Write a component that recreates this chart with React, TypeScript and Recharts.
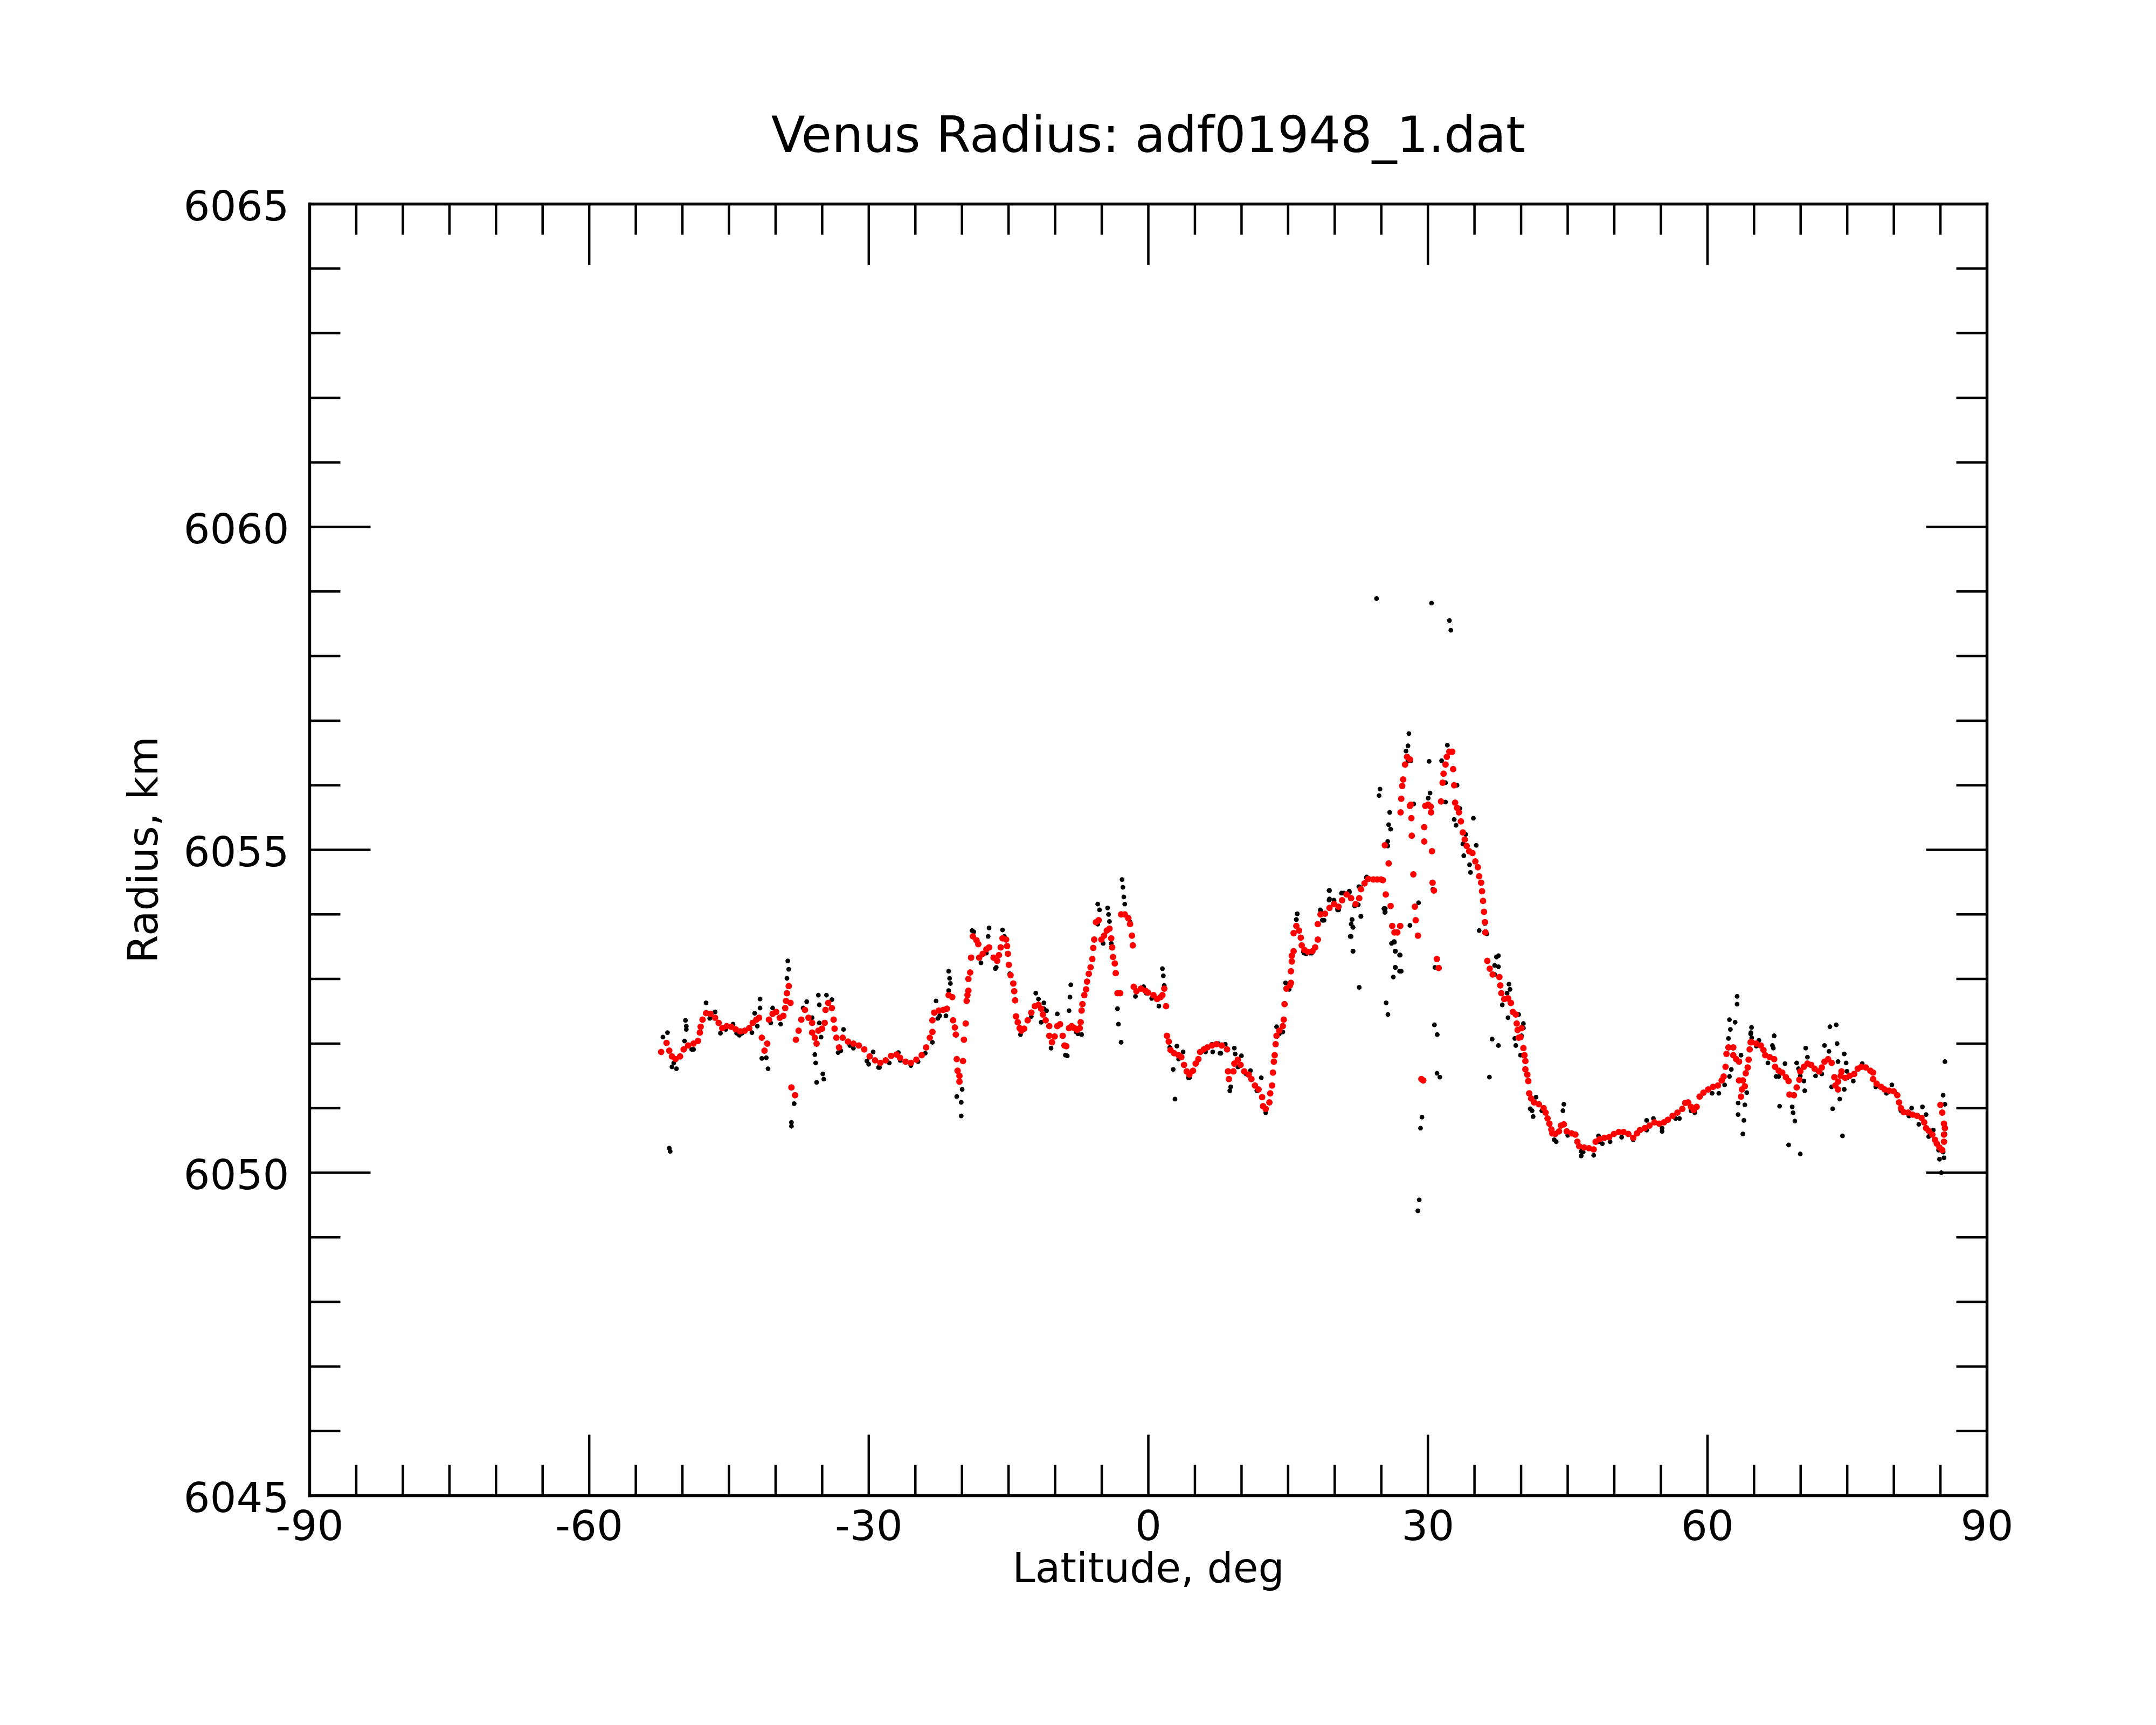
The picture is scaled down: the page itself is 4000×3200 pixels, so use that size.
import React from 'react';
import { ScatterChart, Scatter, XAxis, YAxis } from 'recharts';

type P = [number, number];

// ---- smoothed (red) series: [latitude deg, radius km]
const smoothedSouth: P[] = [
  [-52.28,6051.87],[-51.70,6052.01],[-51.41,6051.89],[-51.12,6051.80],[-50.74,6051.76],[-50.25,6051.80],[-49.87,6051.91],[-49.39,6051.97],[-48.81,6052.00],[-48.33,6052.04],[-48.13,6052.17],[-48.04,6052.26],[-47.84,6052.37],[-47.46,6052.47],[-46.98,6052.46],[-46.49,6052.40],[-46.11,6052.32],[-45.72,6052.24],[-45.24,6052.27],[-44.76,6052.26],[-44.28,6052.22],[-43.79,6052.19],[-43.31,6052.20],[-42.83,6052.24],[-42.45,6052.32],[-42.06,6052.37],[-41.77,6052.40],[-41.48,6052.09],[-41.19,6051.89],[-40.90,6052.00],[-40.71,6052.37],[-40.32,6052.46],[-39.94,6052.49],[-39.55,6052.40],[-39.17,6052.43],[-38.97,6052.55],[-38.88,6052.66],[-38.78,6052.78],[-38.59,6052.89],[-38.40,6052.63],[-38.30,6051.32],[-37.91,6051.20],[-37.82,6052.06],[-37.53,6052.20],[-37.24,6052.37],[-36.85,6052.52],[-36.47,6052.40],[-36.08,6052.32],[-36.08,6052.17],[-35.79,6052.09],[-35.60,6052.00],[-35.41,6052.20],[-35.02,6052.23],[-34.73,6052.32],[-34.64,6052.52],[-34.35,6052.63],[-33.96,6052.55],[-33.77,6052.37],[-33.67,6052.23],[-33.48,6052.09],[-33.19,6051.94],[-32.80,6052.09],[-32.23,6052.03],[-31.65,6052.00],[-31.07,6051.97],[-30.49,6051.91],[-29.91,6051.80],[-29.33,6051.74],[-28.76,6051.70],[-28.18,6051.74],[-27.60,6051.81],[-27.02,6051.83],
];
const smoothedMid: P[] = [
  [-26.64,6051.78],[-26.06,6051.72],[-25.48,6051.70],[-24.90,6051.75],[-24.32,6051.82],[-23.84,6051.94],[-23.45,6052.09],[-23.17,6052.18],[-23.17,6052.36],[-22.97,6052.48],[-22.49,6052.51],[-22.01,6052.52],[-21.62,6052.54],[-21.43,6052.75],[-21.04,6052.72],[-20.95,6052.36],[-20.76,6052.25],[-20.66,6052.14],[-20.56,6051.76],[-20.47,6051.58],[-20.27,6051.50],[-20.27,6051.41],[-19.89,6051.73],[-19.79,6052.06],[-19.60,6052.31],[-19.50,6052.66],[-19.41,6052.75],[-19.31,6052.82],[-19.31,6053.00],[-19.12,6053.10],[-19.02,6053.33],[-18.83,6053.66],[-18.44,6053.60],[-18.25,6053.54],[-18.15,6053.33],[-17.77,6053.39],[-17.38,6053.46],[-17.09,6053.49],[-16.61,6053.33],[-16.22,6053.28],[-16.03,6053.37],[-15.84,6053.49],[-15.65,6053.63],[-15.26,6053.61],[-15.16,6053.51],[-15.07,6053.39],[-14.97,6053.22],[-14.78,6053.06],[-14.49,6052.93],[-14.39,6052.81],[-14.30,6052.67],[-14.20,6052.42],[-14.01,6052.33],[-13.81,6052.24],[-13.62,6052.20],[-13.33,6052.23],[-12.95,6052.36],[-12.56,6052.48],[-12.18,6052.58],[-11.79,6052.60],[-11.50,6052.54],[-11.31,6052.45],[-11.02,6052.36],[-10.63,6052.27],[-10.63,6052.12],[-10.34,6052.02],[-10.05,6052.11],[-9.77,6052.27],[-9.47,6052.30],[-9.19,6052.12],[-9.00,6051.97],[-8.80,6051.96],[-8.51,6052.24],[-8.22,6052.27],[-7.93,6052.24],[-7.64,6052.21],[-7.36,6052.24],[-7.26,6052.33],[-7.16,6052.51],[-7.07,6052.61],[-6.87,6052.75],[-6.68,6052.84],[-6.58,6052.96],[-6.39,6053.08],[-6.20,6053.18],[-6.01,6053.31],[-5.91,6053.48],[-5.81,6053.61],[-5.62,6053.88],[-5.33,6053.91],[-5.04,6053.61],[-4.75,6053.67],[-4.46,6053.75],[-4.17,6053.78],[-3.98,6053.63],[-3.88,6053.49],[-3.79,6053.34],[-3.60,6053.24],[-3.50,6053.09],[-3.31,6052.78],[-3.02,6052.78],[-2.92,6054.00],[-2.53,6054.00],[-2.15,6053.94],[-1.96,6053.85],[-1.76,6053.67],[-1.67,6053.52],[-1.57,6052.88],[-1.28,6052.81],[-0.80,6052.85],[-0.32,6052.82],
];
const smoothedEquator: P[] = [
  [-0.03,6052.79],[0.55,6052.75],[0.94,6052.69],[1.32,6052.72],[1.51,6052.75],[1.71,6052.85],[1.90,6052.58],[2.00,6052.12],[2.19,6052.03],[2.38,6051.90],[2.77,6051.85],[3.25,6051.82],[3.54,6051.79],[3.83,6051.67],[4.12,6051.57],[4.41,6051.52],[4.79,6051.58],[5.08,6051.69],[5.37,6051.76],[5.56,6051.87],[5.95,6051.91],[6.33,6051.94],[6.82,6051.97],[7.30,6051.99],[7.88,6051.97],[8.45,6051.91],[8.55,6051.57],[8.65,6051.45],[9.13,6051.57],[9.23,6051.69],[9.61,6051.75],[9.90,6051.67],[10.29,6051.57],[10.77,6051.52],[11.06,6051.45],[11.44,6051.35],[11.83,6051.29],[12.21,6051.17],[12.31,6051.03],[12.60,6050.99],[12.99,6051.09],[13.08,6051.23],[13.28,6051.35],[13.37,6051.55],[13.47,6051.72],[13.56,6051.82],[13.66,6051.99],[13.76,6052.12],[14.05,6052.20],[14.43,6052.27],[14.53,6052.37],[14.62,6052.61],[14.82,6052.85],[15.20,6052.90],[15.30,6052.94],[15.30,6053.12],[15.40,6053.27],[15.40,6053.36],[15.59,6053.43],[15.59,6053.71],[15.88,6053.82],[16.17,6053.75],[16.36,6053.64],[16.46,6053.52],[16.75,6053.45],[17.13,6053.42],[17.61,6053.43],[17.90,6053.49],[18.19,6053.61],[18.19,6053.85],[18.48,6054.00],[18.96,6054.01],[19.44,6054.10],[19.93,6054.16],[20.41,6054.12],[20.79,6054.22],[21.28,6054.31],[21.76,6054.25],[22.24,6054.16],[22.63,6054.25],[22.82,6054.39],[23.20,6054.48],[23.59,6054.55],
];
const smoothedPeak: P[] = [
  [24.14,6054.54],[24.55,6054.54],[24.97,6054.54],[25.17,6054.53],[25.48,6054.31],[25.38,6055.07],[25.79,6054.79],[26.00,6054.13],[26.17,6053.82],[26.41,6053.72],[26.72,6053.72],[27.03,6053.82],[27.07,6055.58],[27.14,6055.79],[27.24,6055.99],[27.34,6056.09],[27.55,6056.32],[27.76,6056.44],[28.07,6056.40],[28.07,6055.68],[28.17,6055.70],[28.23,6055.49],[28.27,6055.22],[28.44,6054.62],[28.60,6054.12],[28.69,6053.91],[28.93,6053.67],[29.30,6051.45],[29.50,6051.43],[29.61,6055.13],[29.61,6055.35],[29.72,6055.68],[30.03,6055.70],[30.30,6055.67],[30.34,6055.58],[30.44,6054.98],[30.50,6054.49],[30.65,6054.37],[30.96,6053.31],[31.16,6053.17],[31.41,6055.75],[31.58,6056.04],[31.68,6056.18],[31.89,6056.32],[32.03,6056.44],[32.30,6056.52],[32.61,6056.52],[32.71,6056.25],[32.82,6056.00],[32.92,6055.73],[33.13,6055.65],[33.33,6055.58],[33.54,6055.44],[33.75,6055.27],[33.95,6055.16],[34.16,6055.06],[34.43,6054.98],[34.78,6054.95],[35.09,6054.82],[35.36,6054.73],[35.50,6054.59],[35.71,6054.49],[35.81,6054.36],[35.92,6054.21],[36.02,6054.04],[36.12,6053.88],[36.16,6053.72],[36.37,6053.28],[36.64,6053.16],[36.95,6053.07],
];
const smoothedNorth: P[] = [
  [37.67,6053.03],[37.77,6052.90],[37.88,6052.78],[38.19,6052.69],[38.60,6052.70],[38.91,6052.63],[39.12,6052.49],[39.43,6052.45],[39.53,6052.31],[39.63,6052.21],[40.05,6052.24],[39.94,6052.10],[39.74,6052.09],[40.25,6051.93],[40.36,6051.82],[40.46,6051.73],[40.46,6051.60],[40.67,6051.52],[40.77,6051.42],[40.87,6051.23],[41.08,6051.15],[41.39,6051.09],[41.91,6051.06],[42.42,6051.00],[42.63,6050.93],[42.84,6050.84],[43.04,6050.76],[43.25,6050.67],[43.35,6050.61],[43.66,6050.60],[44.07,6050.64],[44.28,6050.73],[44.59,6050.75],[44.90,6050.64],[45.42,6050.61],[45.83,6050.59],[46.04,6050.48],[46.24,6050.41],[46.76,6050.39],[47.28,6050.38],[47.79,6050.36],[48.00,6050.48],[48.41,6050.52],[48.93,6050.54],[49.45,6050.55],[49.96,6050.60],[50.48,6050.63],[51.00,6050.63],[51.51,6050.60],[52.03,6050.54],[52.44,6050.61],[52.75,6050.66],[53.27,6050.69],[53.78,6050.73],[54.30,6050.78],[54.82,6050.76],[55.33,6050.78],[55.75,6050.82],[56.26,6050.88],[56.78,6050.93],[57.30,6050.99],[57.61,6051.08],[57.92,6051.09],[58.23,6051.02],[58.53,6050.97],[58.84,6051.02],[59.16,6051.18],[59.57,6051.24],[60.08,6051.29],[60.60,6051.33],[61.12,6051.35],[61.53,6051.43],[61.74,6051.49],[61.94,6051.64],[62.04,6051.84],[62.25,6051.94],[62.77,6051.94],[62.77,6051.82],[63.08,6051.76],[63.39,6051.72],[63.39,6051.43],[63.80,6051.43],[63.70,6051.29],[63.60,6051.18],[64.01,6051.34],[64.11,6051.54],[64.32,6051.63],[64.42,6051.75],[64.53,6051.91],[64.63,6052.02],
];
const smoothedPolar: P[] = [
  [64.75,6052.02],[65.24,6052.00],[65.72,6051.97],[66.01,6051.90],[66.20,6051.82],[66.68,6051.79],[67.16,6051.76],[67.26,6051.64],[67.65,6051.58],[68.03,6051.55],[68.42,6051.48],[68.71,6051.42],[68.80,6051.21],[69.28,6051.20],[69.57,6051.32],[69.86,6051.44],[69.96,6051.57],[70.35,6051.64],[70.73,6051.69],[71.12,6051.67],[71.50,6051.61],[71.98,6051.57],[72.27,6051.63],[72.56,6051.72],[72.95,6051.76],[73.33,6051.70],[73.62,6051.48],[73.72,6051.35],[74.01,6051.29],[74.01,6051.41],[74.30,6051.50],[74.39,6051.57],[74.78,6051.47],[75.26,6051.50],[75.74,6051.53],[76.13,6051.61],[76.51,6051.64],[76.99,6051.63],[77.48,6051.58],[77.77,6051.55],[77.77,6051.45],[78.15,6051.38],[78.64,6051.33],[79.02,6051.29],[79.50,6051.27],[79.99,6051.26],[80.37,6051.20],[80.56,6051.09],[80.76,6051.00],[81.05,6050.94],[81.53,6050.93],[82.01,6050.90],[82.49,6050.88],[82.97,6050.85],[83.26,6050.78],[83.46,6050.69],[83.74,6050.65],[84.13,6050.59],[84.42,6050.51],[84.61,6050.45],[84.90,6050.39],[85.19,6050.35],[85.38,6050.48],[85.38,6050.59],[85.48,6050.69],[85.38,6050.76],[85.19,6050.93],[85.00,6051.05],
];

// ---- raw (black) series
const rawSouth: P[] = [
  [-52.09,6052.10],[-51.60,6052.17],[-51.12,6051.64],[-50.64,6051.61],[-51.41,6050.38],[-51.31,6050.33],[-50.93,6051.70],[-49.77,6052.04],[-49.58,6052.27],[-49.58,6052.22],[-49.00,6051.91],[-47.46,6052.63],[-46.98,6052.40],[-46.49,6052.49],[-45.92,6052.16],[-44.57,6052.30],[-43.89,6052.13],[-42.54,6052.17],[-42.25,6052.47],[-41.67,6052.69],[-41.67,6052.55],[-41.48,6051.77],[-41.00,6051.78],[-40.81,6051.61],[-40.32,6052.55],[-39.46,6052.30],[-38.69,6053.28],[-38.59,6053.15],[-38.78,6053.01],[-38.01,6051.07],[-38.30,6050.78],[-38.30,6050.72],[-36.66,6052.65],[-36.08,6052.40],[-35.79,6051.83],[-35.70,6051.70],[-35.60,6051.40],[-34.83,6051.45],[-34.93,6051.53],[-35.41,6052.75],[-35.31,6052.60],[-34.54,6052.75],[-33.96,6052.68],[-35.31,6052.32],[-35.12,6052.10],[-33.29,6051.86],[-32.71,6052.22],[-32.03,6051.97],[-30.01,6051.68],[-29.53,6051.87],[-28.85,6051.63],[-26.83,6051.86],
  [-49.67,6052.36],[-48.81,6051.91],[-47.07,6052.39],[-45.34,6052.22],[-44.18,6052.16],[-43.60,6052.16],[-41.96,6052.27],[-40.52,6052.32],[-37.05,6052.55],[-33.00,6051.89],[-31.65,6051.93],[-30.20,6051.73],[-28.95,6051.63],[-27.80,6051.70],[-26.63,6051.74],
];
const rawMid: P[] = [
  [-22.78,6052.66],[-22.59,6052.39],[-21.43,6053.12],[-21.33,6053.01],[-21.24,6052.93],[-21.43,6052.82],[-21.72,6052.43],[-23.17,6052.02],[-20.56,6051.18],[-19.98,6051.29],[-20.08,6051.09],[-20.08,6050.88],[-18.92,6053.75],[-17.09,6053.79],[-17.19,6053.66],[-15.65,6053.76],[-17.96,6053.25],[-16.32,6053.18],[-13.72,6052.14],[-12.08,6052.78],[-11.79,6052.69],[-11.21,6052.63],[-10.92,6052.51],[-11.50,6052.33],[-10.44,6051.93],[-9.77,6052.46],[-8.70,6051.81],[-8.32,6052.91],[-8.41,6052.72],[-8.51,6052.51],[-7.55,6052.15],[-5.43,6054.16],[-5.24,6054.07],[-4.37,6054.10],[-4.27,6054.00],[-4.17,6053.89],[-4.85,6053.55],[-2.82,6054.54],[-2.73,6054.42],[-2.63,6054.27],[-2.53,6054.16],[-1.96,6053.88],[-3.31,6052.54],[-3.21,6052.30],[-2.92,6052.02],[-1.38,6052.73],[-0.51,6052.88],
  [-25.48,6051.66],[-24.71,6051.72],[-23.94,6051.85],[-22.39,6052.43],[-18.73,6053.73],[-17.38,6053.40],[-16.42,6053.16],[-15.45,6053.66],[-14.87,6053.08],[-12.56,6052.42],[-11.21,6052.54],[-8.90,6051.82],[-7.74,6052.18],[-7.16,6052.14],[-5.43,6053.85],[-3.98,6053.55],[-0.22,6052.78],
];
const rawEquator: P[] = [
  [0.36,6052.70],[1.51,6053.16],[1.61,6053.05],[1.71,6052.90],[1.13,6052.58],[3.06,6051.96],[2.67,6051.60],[2.86,6051.14],[3.73,6051.87],[4.41,6051.47],[6.82,6051.99],[7.49,6052.00],[7.68,6051.85],[8.26,6051.99],[9.23,6051.93],[9.32,6051.84],[9.99,6051.81],[8.74,6051.27],[8.84,6051.33],[10.96,6051.58],[12.12,6051.47],[11.64,6051.27],[12.60,6050.93],[13.76,6052.26],[14.43,6052.18],[14.72,6052.94],[15.11,6052.84],[15.97,6054.01],[15.88,6053.92],[16.65,6053.42],[17.32,6053.40],[18.48,6054.06],[18.86,6053.91],[19.44,6054.37],[19.44,6054.24],[19.93,6054.21],[20.31,6054.09],[20.99,6054.33],[21.57,6054.34],[21.85,6053.92],[21.95,6053.80],[21.76,6053.66],[21.95,6053.43],[22.82,6053.97],[22.63,6052.87],[22.53,6054.15],[22.72,6054.42],[23.40,6054.57],[25.42,6054.09],[25.42,6054.04],[25.52,6052.63],[25.71,6052.45],[26.38,6053.58],[26.48,6053.43],[26.48,6053.18],[26.29,6053.03],[26.96,6053.37],[26.96,6053.12],
  [2.29,6051.94],[3.25,6051.76],[4.31,6051.47],[5.18,6051.70],[6.14,6051.87],[6.91,6051.87],[7.78,6051.85],[9.61,6051.64],[10.48,6051.53],[11.73,6051.27],[14.05,6052.15],[16.94,6053.39],[18.67,6053.91],[20.31,6054.07],[22.14,6054.13],[23.49,6054.54],
];
const rawPeak: P[] = [
  [27.96,6056.80],[27.86,6056.61],[27.65,6056.53],[28.17,6056.38],[30.13,6056.37],[24.86,6055.94],[24.76,6055.84],[25.90,6055.58],[25.79,6055.39],[26.00,6055.32],[25.69,6055.13],[25.69,6055.06],[28.48,6055.71],[30.23,6055.88],[30.03,6055.80],[31.47,6056.38],[32.09,6056.62],[31.89,6056.04],[33.13,6056.00],[31.89,6055.74],[32.82,6055.47],[33.02,6055.38],[33.44,6055.64],[34.88,6055.49],[34.06,6055.24],[33.75,6055.09],[35.19,6055.07],[33.85,6054.91],[34.47,6054.77],[34.57,6054.65],[35.50,6053.75],[36.33,6053.70],[37.36,6053.34],[37.16,6053.21],[19.39,6054.37],[19.39,6054.22],[19.91,6054.22],[20.73,6054.33],[21.56,6054.36],[18.46,6054.07],[18.77,6053.91],[15.98,6054.01],[15.88,6053.92],[21.87,6053.92],[21.77,6053.85],[21.97,6053.80],[22.80,6053.97],[21.66,6053.66],[21.97,6053.43],[22.59,6054.43],[23.42,6054.58],[25.28,6054.09],[25.38,6054.03],[26.10,6053.55],[26.41,6053.57],[26.52,6053.43],[27.03,6053.37],[26.52,6053.18],[27.14,6053.12],[26.93,6053.82],[28.07,6053.83],[29.00,6054.18],[30.54,6054.39],[30.75,6053.18],
  [24.49,6058.89],[30.39,6058.82],[32.31,6058.55],[32.46,6058.40],[29.07,6049.58],[28.92,6049.41],[29.36,6050.86],[29.21,6050.69],[30.98,6051.54],[31.28,6051.48],[30.70,6052.29],[31.00,6052.14],[36.60,6051.48],[36.90,6052.07],
  [16.70,6053.40],[17.53,6053.40],[20.42,6054.07],[22.40,6054.15],[27.86,6056.38],[36.12,6053.86],[36.23,6053.73],[37.16,6053.07],
];
const rawNorth: P[] = [
  [37.57,6053.36],[37.57,6053.19],[37.57,6051.97],[38.70,6052.92],[38.81,6052.84],[38.50,6052.78],[37.98,6052.60],[38.60,6052.40],[39.74,6052.45],[40.25,6052.31],[40.25,6052.24],[39.32,6052.08],[39.43,6051.97],[39.94,6051.82],[40.98,6050.99],[41.29,6050.87],[41.60,6051.17],[43.77,6050.48],[44.59,6051.06],[44.49,6050.96],[46.45,6050.26],[47.79,6050.27],[46.66,6050.32],[48.31,6050.57],[48.72,6050.45],[53.47,6050.81],[54.20,6050.84],[55.13,6050.64],[56.99,6050.84],[61.22,6051.23],[61.84,6051.36],[62.36,6051.49],[62.56,6051.60],[63.18,6052.73],[63.18,6052.61],[62.36,6052.37],[62.97,6052.33],[62.46,6052.22],[62.25,6052.08],[63.60,6051.82],[63.29,6051.08],[63.29,6050.90],[63.91,6050.81],[63.80,6050.60],[64.01,6051.05],[64.22,6051.24],[64.73,6052.25],[64.63,6052.15],
  [38.81,6052.63],[40.05,6052.12],[41.18,6050.96],[42.22,6050.96],[43.56,6050.51],[45.00,6050.58],[46.45,6050.33],[48.31,6050.48],[49.55,6050.48],[50.79,6050.55],[52.03,6050.51],[53.47,6050.66],[55.13,6050.69],[56.57,6050.84],[58.23,6050.96],[58.64,6050.93],[60.50,6051.23],
];
const rawPolar: P[] = [
  [64.66,6052.17],[64.75,6052.09],[65.52,6052.05],[67.16,6052.12],[66.97,6051.97],[67.07,6051.93],[66.49,6051.70],[67.36,6051.49],[67.74,6051.03],[68.32,6051.69],[69.57,6051.70],[69.77,6051.61],[69.09,6051.02],[69.19,6050.93],[69.38,6050.80],[68.71,6050.43],[69.96,6050.29],[70.35,6051.42],[70.44,6051.27],[70.54,6051.93],[70.73,6051.79],[71.60,6051.50],[72.56,6051.97],[73.04,6051.88],[73.14,6052.26],[73.82,6052.29],[73.91,6052.00],[74.01,6051.72],[73.33,6051.33],[73.43,6050.99],[74.20,6051.14],[74.68,6051.84],[74.88,6051.70],[74.68,6051.29],[74.49,6050.57],[74.97,6051.57],[75.65,6051.42],[76.61,6051.69],[78.06,6051.33],[79.21,6051.23],[79.79,6051.36],[81.62,6050.88],[81.91,6051.00],[82.68,6050.75],[83.07,6051.02],[83.46,6050.90],[83.74,6050.56],[84.23,6050.66],[84.90,6050.21],[85.38,6050.23],[85.09,6050.00],[85.29,6051.20],[85.48,6051.06],[85.48,6051.72],[85.48,6050.60],[85.29,6050.32],
  [65.24,6051.96],[67.65,6051.49],[69.96,6051.50],[72.27,6051.53],[74.97,6051.47],[80.76,6050.96],[84.80,6050.35],
];

// ---- axes
const xTickValues = [-90,-85,-80,-75,-70,-65,-60,-55,-50,-45,-40,-35,-30,-25,-20,-15,-10,-5,0,5,10,15,20,25,30,35,40,45,50,55,60,65,70,75,80,85,90];
const xLabelValues = [-90,-60,-30,0,30,60,90];
const yTickValues = [6045,6046,6047,6048,6049,6050,6051,6052,6053,6054,6055,6056,6057,6058,6059,6060,6061,6062,6063,6064,6065];
const yLabelValues = [6045,6050,6055,6060,6065];

const titleText = 'Venus Radius: adf01948_1.dat';
const xAxisTitle = 'Latitude, deg';
const yAxisTitle = 'Radius, km';

const W = 4000;
const H = 3200;
const PLOT_LEFT = 574.5;
const PLOT_RIGHT = 3686.5;
const PLOT_TOP = 378.5;
const PLOT_BOTTOM = 2774.5;
const AX_H = 30;
const AX_W = 60;
const FONT = '"DejaVu Sans", Verdana, sans-serif';
const TICK_FS = 77;
const LABEL_FS = 76;
const MAJOR = 113;
const MINOR = 57;
const TICK_W = 4.5;
const FRAME = { stroke: '#000', strokeWidth: 5.4, strokeLinecap: 'square' as const };

const toPts = (groups: P[][]) => groups.flat().map(([x, y]) => ({ x, y }));
const smoothedData = toPts([smoothedSouth, smoothedMid, smoothedEquator, smoothedPeak, smoothedNorth, smoothedPolar]);
const rawData = toPts([rawSouth, rawMid, rawEquator, rawPeak, rawNorth, rawPolar]);

const BottomTick = (props: any) => {
  const { x, y, payload } = props;
  const v = payload.value;
  const major = xLabelValues.includes(v);
  return (
    <g>
      <line x1={x} y1={y} x2={x} y2={y - (major ? MAJOR : MINOR)} stroke="#000" strokeWidth={TICK_W} />
      {major && (
        <text x={x} y={y + 82} textAnchor="middle" fontFamily={FONT} fontSize={TICK_FS} fill="#000">{v}</text>
      )}
    </g>
  );
};
const TopTick = (props: any) => {
  const { x, y, payload } = props;
  const major = xLabelValues.includes(payload.value);
  return <line x1={x} y1={y} x2={x} y2={y + (major ? MAJOR : MINOR)} stroke="#000" strokeWidth={TICK_W} />;
};
const LeftTick = (props: any) => {
  const { x, y, payload } = props;
  const v = payload.value;
  const major = yLabelValues.includes(v);
  return (
    <g>
      <line x1={x} y1={y} x2={x + (major ? MAJOR : MINOR)} y2={y} stroke="#000" strokeWidth={TICK_W} />
      {major && (
        <text x={x - 38} y={y + 30} textAnchor="end" fontFamily={FONT} fontSize={TICK_FS} fill="#000">{v}</text>
      )}
    </g>
  );
};
const RightTick = (props: any) => {
  const { x, y, payload } = props;
  const major = yLabelValues.includes(payload.value);
  return <line x1={x} y1={y} x2={x - (major ? MAJOR : MINOR)} y2={y} stroke="#000" strokeWidth={TICK_W} />;
};

const RedDot = (p: any) => <circle cx={p.cx} cy={p.cy} r={6} fill="#ff0000" />;
const BlackDot = (p: any) => <circle cx={p.cx} cy={p.cy} r={4.4} fill="#000000" />;

export default function App() {
  const cx = (PLOT_LEFT + PLOT_RIGHT) / 2;
  const cy = (PLOT_TOP + PLOT_BOTTOM) / 2;
  return (
    <div style={{ position: 'absolute', left: 0, top: 0, width: W, height: H, background: '#fff' }}>
      <ScatterChart
        width={W}
        height={H}
        margin={{
          top: PLOT_TOP - AX_H,
          bottom: H - PLOT_BOTTOM - AX_H,
          left: PLOT_LEFT - AX_W,
          right: W - PLOT_RIGHT - AX_W,
        }}
      >
        <XAxis
          xAxisId="b"
          type="number"
          dataKey="x"
          domain={[-90, 90]}
          ticks={xTickValues}
          interval={0}
          orientation="bottom"
          height={AX_H}
          tickLine={false}
          tickSize={0}
          tickMargin={0}
          axisLine={FRAME}
          tick={BottomTick}
          allowDataOverflow
        />
        <XAxis
          xAxisId="t"
          type="number"
          dataKey="x"
          domain={[-90, 90]}
          ticks={xTickValues}
          interval={0}
          orientation="top"
          height={AX_H}
          tickLine={false}
          tickSize={0}
          tickMargin={0}
          axisLine={FRAME}
          tick={TopTick}
          allowDataOverflow
        />
        <YAxis
          yAxisId="l"
          type="number"
          dataKey="y"
          domain={[6045, 6065]}
          ticks={yTickValues}
          interval={0}
          orientation="left"
          width={AX_W}
          tickLine={false}
          tickSize={0}
          tickMargin={0}
          axisLine={FRAME}
          tick={LeftTick}
          allowDataOverflow
        />
        <YAxis
          yAxisId="r"
          type="number"
          dataKey="y"
          domain={[6045, 6065]}
          ticks={yTickValues}
          interval={0}
          orientation="right"
          width={AX_W}
          tickLine={false}
          tickSize={0}
          tickMargin={0}
          axisLine={FRAME}
          tick={RightTick}
          allowDataOverflow
        />
        <Scatter data={rawData} xAxisId="b" yAxisId="l" shape={BlackDot} isAnimationActive={false} />
        <Scatter data={smoothedData} xAxisId="b" yAxisId="l" shape={RedDot} isAnimationActive={false} />
      </ScatterChart>
      <svg
        width={W}
        height={H}
        style={{ position: 'absolute', left: 0, top: 0, pointerEvents: 'none' }}
      >
        <text x={cx} y={282} textAnchor="middle" fontFamily={FONT} fontSize={92} fill="#000">{titleText}</text>
        <text x={cx} y={2935} textAnchor="middle" fontFamily={FONT} fontSize={LABEL_FS} fill="#000">{xAxisTitle}</text>
        <text
          x={292}
          y={cy}
          textAnchor="middle"
          fontFamily={FONT}
          fontSize={LABEL_FS}
          fill="#000"
          transform={`rotate(-90, 292, ${cy})`}
        >
          {yAxisTitle}
        </text>
      </svg>
    </div>
  );
}
